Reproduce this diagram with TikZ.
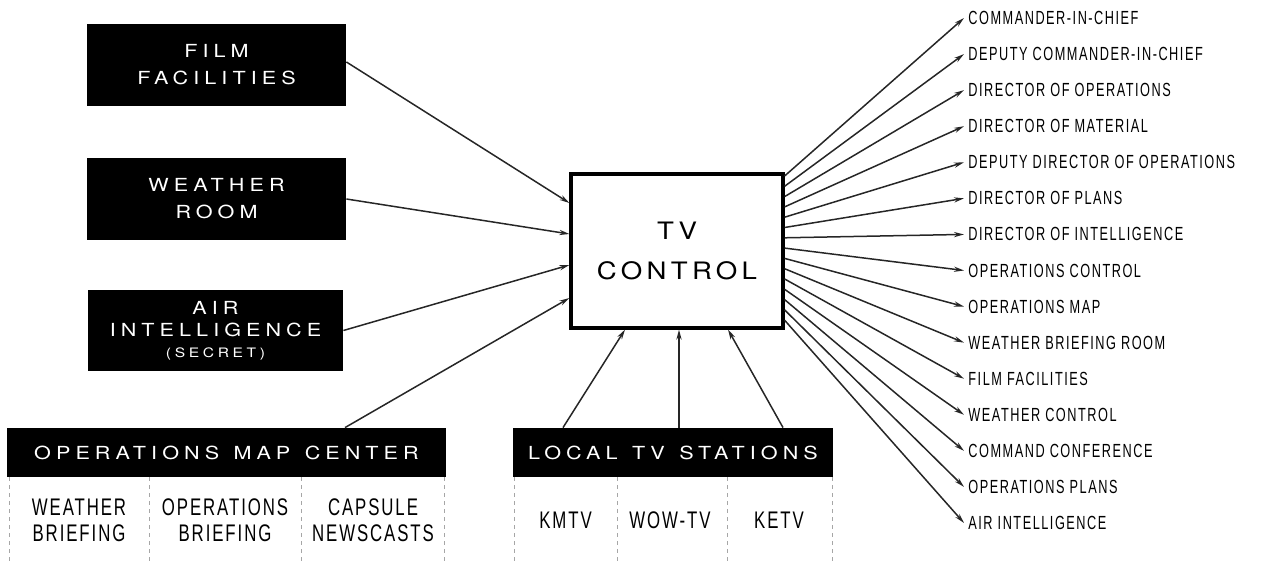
\documentclass[tikz,border=0pt]{standalone}
\usepackage{fontspec}
\usetikzlibrary{arrows.meta,positioning,calc}
\newfontfamily\widefont[FakeStretch=1.2,LetterSpace=28,WordSpace=1.3]{TeX Gyre Heros}
\newfontfamily\ctrlfont[FakeStretch=1.15,LetterSpace=18]{TeX Gyre Heros}
\newfontfamily\narrowfont[FakeStretch=0.7,LetterSpace=8]{Liberation Sans}
\newfontfamily\labfont[FakeStretch=0.67,LetterSpace=8]{Liberation Sans}

\begin{document}
\begin{tikzpicture}[x=0.5pt, y=-0.5pt,
  hd/.style={fill=black, text=white, align=center, inner sep=0pt, font=\widefont\fontsize{9}{13.5}\selectfont},
  ctl/.style={draw=black, line width=1.6pt, align=center, minimum width=106pt, minimum height=77pt, font=\ctrlfont\fontsize{12}{20}\selectfont},
  lab/.style={anchor=west, inner xsep=2pt, inner ysep=0pt, font=\labfont\fontsize{9.5}{10}\selectfont},
  cell/.style={align=center, inner sep=0pt, font=\narrowfont\fontsize{12}{13}\selectfont},
  sep/.style={gray!70, line width=0.4pt, dash pattern=on 2pt off 2pt},
  ar/.style={->, line width=0.75pt, black!85},
  >={Stealth[length=5pt,width=2.6pt]}]
\useasboundingbox (0,0) rectangle (1263,561);
\node[hd, minimum width=129.5pt, minimum height=41pt] (film) at (216.5,65) {FILM\\FACILITIES};
\node[hd, minimum width=129.5pt, minimum height=41pt] (weather) at (216.5,199) {WEATHER\\ROOM};
\node[hd, minimum width=127.5pt, minimum height=40.5pt] (air) at (215.5,330.5)
  {AIR\\[-2.5pt]INTELLIGENCE\\[-3pt]{\fontsize{6.5}{8}\selectfont(SECRET)}};
\node[hd, minimum width=219.5pt, minimum height=24.5pt] (opsmap) at (226.5,452.5) {OPERATIONS MAP CENTER};
\node[hd, minimum width=160pt, minimum height=24.5pt] (localtv) at (673,452.5) {LOCAL TV STATIONS};
\node[ctl] (tvc) at (677,251) {TV\\CONTROL};

\foreach \x in {9,149,301,444,514,617,727,832} \draw[sep] (\x,477) -- (\x,561);
\node[cell] (wb) at (79,520) {WEATHER\\BRIEFING};
\node[cell] (ob) at (225,520) {OPERATIONS\\BRIEFING};
\node[cell] (cn) at (373,520) {CAPSULE\\NEWSCASTS};
\node[cell] (kmtv) at (565.5,520) {KMTV};
\node[cell] (wow) at (670,520) {WOW-TV};
\node[cell] (ketv) at (779,520) {KETV};

\draw[ar] ([yshift=1.5pt]film.east) -- ([yshift=24pt]tvc.west);
\draw[ar] (weather.east) -- ([yshift=8.5pt]tvc.west);
\draw[ar] (air.east) -- ([yshift=-7pt]tvc.west);
\draw[ar] ([xshift=59.25pt]opsmap.north) -- ([yshift=-23.5pt]tvc.west);
\draw[ar] ([xshift=-55pt]localtv.north) -- ([xshift=-26pt]tvc.south);
\draw[ar] ([xshift=3pt]localtv.north) -- ([xshift=1pt]tvc.south);
\draw[ar] ([xshift=55pt]localtv.north) -- ([xshift=25.5pt]tvc.south);

\foreach \t [count=\i] in {COMMANDER-IN-CHIEF, DEPUTY COMMANDER-IN-CHIEF, DIRECTOR OF OPERATIONS,
  DIRECTOR OF MATERIAL, DEPUTY DIRECTOR OF OPERATIONS, DIRECTOR OF PLANS, DIRECTOR OF INTELLIGENCE,
  OPERATIONS CONTROL, OPERATIONS MAP, WEATHER BRIEFING ROOM, FILM FACILITIES, WEATHER CONTROL,
  COMMAND CONFERENCE, OPERATIONS PLANS, AIR INTELLIGENCE} {
  \pgfmathsetmacro\ly{18+36.07*(\i-1)}
  \pgfmathsetmacro\ys{37.5-5.15*(\i-1)}
  \node[lab] (l\i) at (964,\ly) {\t};
  \draw[ar] ([yshift=\ys pt]tvc.east) -- (l\i.west);
}
\end{tikzpicture}
\end{document}
